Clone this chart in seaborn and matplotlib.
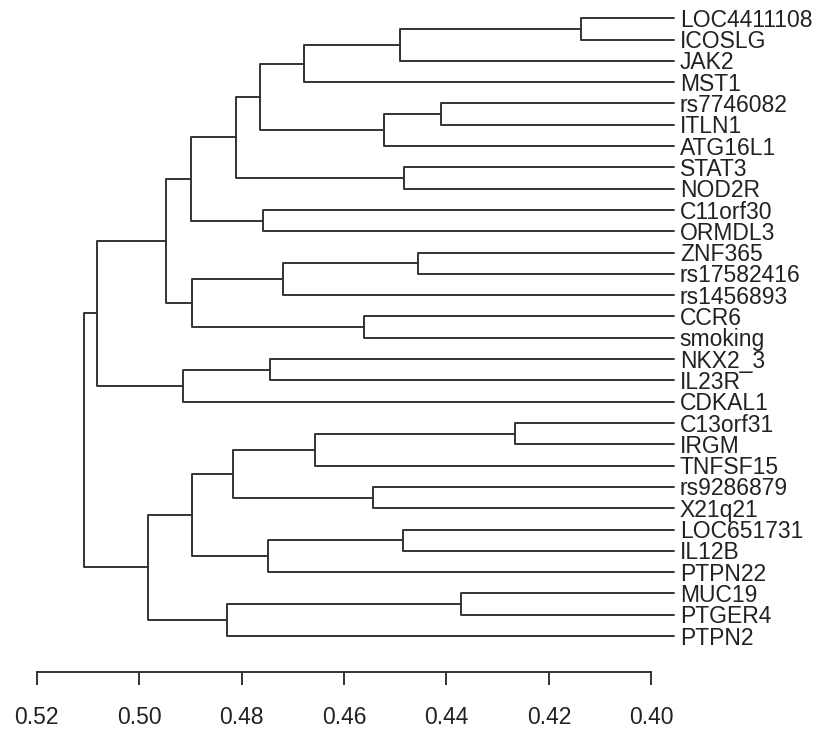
import matplotlib
matplotlib.use("Agg")
import matplotlib.pyplot as plt
import seaborn as sns
import pandas as pd

# Leaf order (top to bottom)
leaves = ["LOC4411108", "ICOSLG", "JAK2", "MST1", "rs7746082", "ITLN1", "ATG16L1",
          "STAT3", "NOD2R", "C11orf30", "ORMDL3", "ZNF365", "rs17582416", "rs1456893",
          "CCR6", "smoking", "NKX2_3", "IL23R", "CDKAL1", "C13orf31", "IRGM", "TNFSF15",
          "rs9286879", "X21q21", "LOC651731", "IL12B", "PTPN22", "MUC19", "PTGER4", "PTPN2"]

# Merge steps: node name, left child, right child
merge_nodes = ["A", "B", "C", "D", "E", "F", "G", "H", "I", "J", "K", "L", "M", "N", "O",
               "P", "Q", "R", "S", "T", "U", "V", "W", "X", "Y", "Z", "AA", "AB", "ROOT"]
merge_left = ["LOC4411108", "A", "B", "rs7746082", "D", "C", "STAT3", "F", "C11orf30", "H",
              "ZNF365", "K", "CCR6", "L", "J", "NKX2_3", "P", "O", "C13orf31", "S",
              "rs9286879", "T", "LOC651731", "W", "V", "MUC19", "Z", "Y", "R"]
merge_right = ["ICOSLG", "JAK2", "MST1", "ITLN1", "ATG16L1", "E", "NOD2R", "G", "ORMDL3", "I",
               "rs17582416", "rs1456893", "smoking", "M", "N", "IL23R", "CDKAL1", "Q", "IRGM",
               "TNFSF15", "X21q21", "U", "IL12B", "PTPN22", "X", "PTGER4", "PTPN2", "AA", "AB"]
# Merge heights
merge_height = [0.4138, 0.4491, 0.4679, 0.4410, 0.4521, 0.4764, 0.4483, 0.4811, 0.4758, 0.4899,
                0.4455, 0.4720, 0.4560, 0.4897, 0.4947, 0.4745, 0.4914, 0.5082, 0.4267, 0.4657,
                0.4543, 0.4817, 0.4485, 0.4748, 0.4897, 0.4372, 0.4828, 0.4982, 0.5107]
leaf_height = 0.3955
x_ticks = [0.52, 0.50, 0.48, 0.46, 0.44, 0.42, 0.40]

# Node coordinates: leaves sit at their order index, internal nodes at the midpoint of children
pos = {name: float(i) for i, name in enumerate(leaves)}
height = {name: leaf_height for name in leaves}
rows = []
for node, l, r, h in zip(merge_nodes, merge_left, merge_right, merge_height):
    pos[node] = (pos[l] + pos[r]) / 2
    height[node] = h
    xs = [height[l], h, h, height[r]]
    ys = [pos[l], pos[l], pos[r], pos[r]]
    for k, (xv, yv) in enumerate(zip(xs, ys)):
        rows.append({"node": node, "step": k, "height": xv, "pos": yv})
links = pd.DataFrame(rows)

sns.set_style("white")
plt.rcParams["font.family"] = ["Liberation Sans", "DejaVu Sans"]

W, H = 818, 729
fig = plt.figure(figsize=(W / 100, H / 100), dpi=100)
top_px, bot_px = 18.3, 636.0
left_px, right_px = 36.7, 674.3
ax = fig.add_axes([left_px / W, (H - bot_px) / H, (right_px - left_px) / W, (bot_px - top_px) / H])

line_color = "#333333"
text_color = "#222222"
font_size = 16.5
sns.lineplot(data=links, x="height", y="pos", units="node", estimator=None, sort=False,
             color=line_color, linewidth=1.4, ax=ax, legend=False)
for line in ax.lines:
    line.set_clip_on(False)

ax.set_xlim(0.52, leaf_height)
ax.set_ylim(len(leaves) - 1, 0)

# Leaf labels, just right of each leaf end
for name in leaves:
    ax.annotate(name, xy=(leaf_height, pos[name]), xytext=(4.0, -1.5), textcoords="offset points",
                ha="left", va="center", fontsize=font_size, color=text_color,
                annotation_clip=False)

ax.set_xlabel("")
ax.set_ylabel("")
ax.set_yticks([])
for s in ["top", "right", "left"]:
    ax.spines[s].set_visible(False)
ax.spines["bottom"].set_position(("outward", 26.1))
ax.spines["bottom"].set_bounds(0.40, 0.52)
ax.spines["bottom"].set_color(line_color)
ax.spines["bottom"].set_linewidth(1.4)
ax.set_xticks(x_ticks)
ax.set_xticklabels([f"{t:.2f}" for t in x_ticks])
ax.tick_params(axis="x", direction="out", length=9.6, width=1.4, color=line_color, pad=14.5,
               bottom=True, labelsize=font_size, labelcolor=text_color)
ax.set_facecolor("white")
fig.patch.set_facecolor("white")

fig.savefig("out.png", dpi=100, facecolor="white")
